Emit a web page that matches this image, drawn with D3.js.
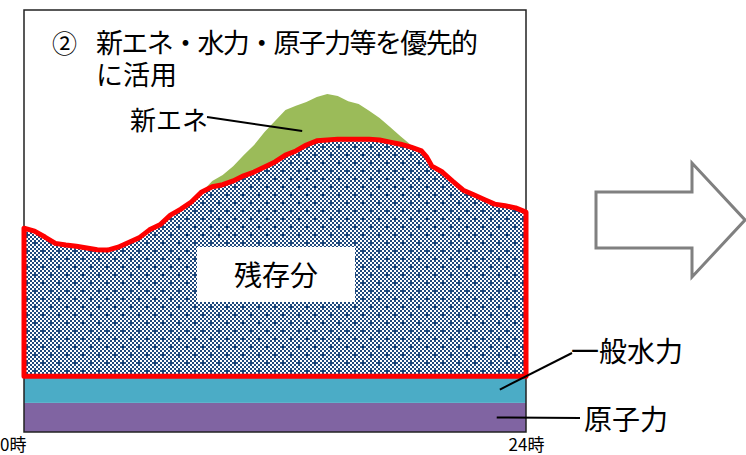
<!DOCTYPE html>
<html>
<head>
<meta charset="utf-8">
<script src="https://cdn.jsdelivr.net/npm/d3@7"></script>
<style>
  body { margin: 0; background: #fff; }
  text { font-family: "Noto Sans CJK JP", "Noto Sans", sans-serif; fill: #000; }
</style>
</head>
<body>
<svg id="chart" width="746" height="455"></svg>
<script>
// Hour of day
const hours = [0,0.5,1,1.5,2,2.5,3,3.5,4,4.5,5,5.5,6,6.5,7,7.5,8,8.5,9,9.5,10,10.5,11,11.5,12,12.5,13,13.5,14,14.5,15,15.5,16,16.5,17,17.5,18,18.5,19,19.25,19.5,20,20.5,21,21.5,22,22.5,23,23.5,24];
// Load after new energy (top of the residual block), relative units
const netLoad = [48.3,47.6,46.2,44.7,44.3,44.0,43.6,43.2,43.1,43.8,44.9,46.0,47.9,49.1,51.4,52.8,54.5,56.9,58.1,58.6,59.5,60.7,61.6,62.8,64.0,65.6,66.6,68.0,69.0,69.2,69.4,69.4,69.4,69.4,69.2,68.7,68.2,67.5,66.6,65.2,63.0,61.6,59.4,57.3,56.2,55.1,54.0,53.6,53.1,52.1];
// New energy (solar) output stacked above it
const newEnergy = [0,0,0,0,0,0,0,0,0,0,0,0,0,0,0,0,0,0,1.4,2.3,3.5,4.9,6.4,8.3,9.7,10.7,10.7,10.2,10.4,10.9,10.2,9.0,8.3,6.7,5.2,3.6,1.9,0.5,0,0,0,0,0,0,0,0,0,0,0,0];
// Flat base-load blocks
const nuclear = 6.9;
const hydro = 6.3;
// Axis tick labels
const timeTicks = [0, 24];
const timeLabels = ["0時", "24時"];
// Text
const titleMark = "②";
const titleLines = ["新エネ・水力・原子力等を優先的", "に活用"];
const seriesNames = { newEnergy: "新エネ", residual: "残存分", hydro: "一般水力", nuclear: "原子力" };

const svg = d3.select("#chart");
const x = d3.scaleLinear().domain([0, 24]).range([24, 526]);
const y = d3.scaleLinear().domain([0, 100]).range([432, 10]);

const rows = hours.map((h, i) => ({ h, net: netLoad[i], ne: newEnergy[i] }));
const base = nuclear + hydro;

// Dotted fill for the residual block: 2px checkerboard with crosses
const defs = svg.append("defs");
const pat = defs.append("pattern")
  .attr("id", "checks").attr("patternUnits", "userSpaceOnUse")
  .attr("width", 16).attr("height", 16);
pat.append("rect").attr("width", 16).attr("height", 16).attr("fill", "#fff");
const cells = [];
for (let r = 0; r < 8; r++) for (let c = 0; c < 8; c++) {
  if ((r + c) % 2 === 1 || (r === 1 && c === 1) || (r === 5 && c === 5)) cells.push([c, r]);
}
pat.selectAll("rect.cell").data(cells).join("rect")
  .attr("class", "cell")
  .attr("x", d => d[0] * 2).attr("y", d => d[1] * 2)
  .attr("width", 2).attr("height", 2).attr("fill", "#1F497D");

// Nuclear and hydro bands
svg.append("rect")
  .attr("x", x(0)).attr("y", y(nuclear))
  .attr("width", x(24) - x(0)).attr("height", y(0) - y(nuclear))
  .attr("fill", "#8064A2");
svg.append("rect")
  .attr("x", x(0)).attr("y", y(base))
  .attr("width", x(24) - x(0)).attr("height", y(nuclear) - y(base))
  .attr("fill", "#4BACC6");

// Plot frame
svg.append("rect")
  .attr("x", x(0)).attr("y", y(100))
  .attr("width", x(24) - x(0)).attr("height", y(0) - y(100))
  .attr("fill", "none").attr("stroke", "#222").attr("stroke-width", 1.5);

// New energy stacked on top of the net load
svg.append("path").datum(rows)
  .attr("fill", "#9BBB59")
  .attr("d", d3.area().x(d => x(d.h)).y0(d => y(d.net)).y1(d => y(d.net + d.ne)));

// Residual block, outlined in red
svg.append("path").datum(rows)
  .attr("fill", "url(#checks)")
  .attr("stroke", "#FF0000").attr("stroke-width", 5).attr("stroke-linejoin", "round")
  .attr("d", d3.area().x(d => x(d.h)).y0(y(base)).y1(d => y(d.net)));

// Label box inside the residual block
svg.append("rect")
  .attr("x", 197).attr("y", 247).attr("width", 158).attr("height", 55)
  .attr("fill", "#fff");
svg.append("text")
  .attr("x", 276).attr("y", 286).attr("text-anchor", "middle")
  .attr("font-size", 28).text(seriesNames.residual);

// Time axis
const axis = svg.append("g")
  .attr("transform", `translate(0,${y(0)})`)
  .call(d3.axisBottom(x).tickValues(timeTicks).tickSize(0).tickPadding(0)
    .tickFormat((d, i) => timeLabels[i]));
axis.select(".domain").remove();
axis.selectAll("text")
  .attr("font-family", "'Noto Sans CJK JP', sans-serif")
  .attr("font-size", 17).attr("fill", "#000")
  .attr("dy", 0).attr("y", 19)
  .attr("text-anchor", (d, i) => i === 0 ? "end" : "middle")
  .attr("dx", (d, i) => i === 0 ? 2 : 0);

// Title
svg.append("text").attr("x", 52).attr("y", 53).attr("font-size", 25).text(titleMark);
svg.append("text").attr("x", 96).attr("y", 53).attr("font-size", 27)
  .attr("textLength", 382).attr("lengthAdjust", "spacing").text(titleLines[0]);
svg.append("text").attr("x", 96).attr("y", 85).attr("font-size", 27).text(titleLines[1]);

// Callouts
const callouts = [
  { name: seriesNames.newEnergy, size: 26, tx: 130, ty: 130, from: [207, 117], to: [x(13.3), y(71.3)] },
  { name: seriesNames.hydro, size: 28, tx: 571, ty: 362, from: [572, 353], to: [x(22.75), y(nuclear + hydro / 2)] },
  { name: seriesNames.nuclear, size: 28, tx: 584, ty: 430, from: [580, 418], to: [x(22.6), y(nuclear / 2)] }
];
svg.selectAll("line.callout").data(callouts).join("line")
  .attr("class", "callout")
  .attr("x1", d => d.from[0]).attr("y1", d => d.from[1])
  .attr("x2", d => d.to[0]).attr("y2", d => d.to[1])
  .attr("stroke", "#000").attr("stroke-width", 2);
svg.selectAll("text.callout").data(callouts).join("text")
  .attr("class", "callout")
  .attr("x", d => d.tx).attr("y", d => d.ty)
  .attr("font-size", d => d.size).text(d => d.name);

// Outline arrow pointing to the next panel
const arrow = [[596,192],[692,192],[692,163],[745,220],[692,277],[692,248],[596,248]];
svg.append("path")
  .attr("d", d3.line()(arrow) + "Z")
  .attr("fill", "#fff").attr("stroke", "#808080").attr("stroke-width", 3);
</script>
</body>
</html>
